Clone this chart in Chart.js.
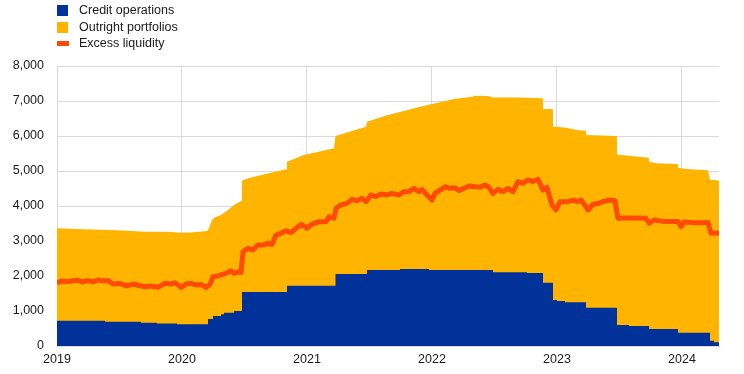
<!DOCTYPE html>
<html>
<head>
<meta charset="utf-8">
<script src="https://cdn.jsdelivr.net/npm/chart.js@4.4.1/dist/chart.umd.min.js"></script>
<style>
  html, body { margin: 0; padding: 0; background: #fff; }
  #wrap { position: relative; width: 744px; height: 374px; }
  #legend { position: absolute; left: 57px; top: 2px; font-family: "Liberation Sans", Arial, sans-serif; font-size: 12.5px; color: #1a1a1a; }
  .item { position: relative; height: 16.5px; line-height: 16.5px; padding-left: 22px; white-space: nowrap; }
  .sw { position: absolute; left: 0; }
</style>
</head>
<body>
<div id="wrap">
  <canvas id="c" width="744" height="374"></canvas>
  <div id="legend"></div>
</div>
<script>
// Series labels and colours
const seriesNames = ["Credit operations", "Outright portfolios", "Excess liquidity"];
const seriesColors = ["#003299", "#FFB400", "#FF4B00"];

// Tick labels
const yTicks = [0, 1000, 2000, 3000, 4000, 5000, 6000, 7000, 8000];
const xYears = [2019, 2020, 2021, 2022, 2023, 2024];

// Credit operations (EUR bn), step changes: date (decimal year) -> value
const creditDates = [2019.000, 2019.384, 2019.672, 2019.800, 2019.960, 2020.208, 2020.248, 2020.312, 2020.336, 2020.416, 2020.480, 2020.840, 2021.228, 2021.480, 2021.744, 2021.976, 2022.488, 2022.760, 2022.888, 2022.968, 2023.000, 2023.064, 2023.232, 2023.480, 2023.576, 2023.736, 2023.968, 2024.224, 2024.256, 2024.296];
const creditValues = [720, 695, 665, 645, 620, 770, 860, 905, 950, 1000, 1545, 1725, 2057, 2171, 2200, 2171, 2105, 2086, 1810, 1314, 1286, 1248, 1095, 600, 571, 486, 381, 152, 105, 105];

// Outright portfolios (EUR bn)
const outrightDates = [2019.000, 2019.160, 2019.480, 2019.704, 2019.888, 2020.000, 2020.064, 2020.184, 2020.207, 2020.224, 2020.240, 2020.264, 2020.312, 2020.368, 2020.416, 2020.479, 2020.480, 2020.544, 2020.576, 2020.712, 2020.832, 2020.840, 2020.976, 2021.216, 2021.228, 2021.472, 2021.480, 2021.640, 2021.776, 2021.904, 2022.000, 2022.176, 2022.320, 2022.344, 2022.448, 2022.487, 2022.704, 2022.887, 2022.888, 2022.967, 2022.968, 2023.000, 2023.072, 2023.160, 2023.231, 2023.232, 2023.479, 2023.480, 2023.608, 2023.735, 2023.736, 2023.792, 2023.967, 2023.968, 2024.032, 2024.208, 2024.224, 2024.255, 2024.256, 2024.296];
const outrightValues = [2645, 2625, 2610, 2602, 2622, 2618, 2625, 2660, 2670, 2680, 2830, 2816, 2838, 2936, 3029, 3150, 3185, 3265, 3293, 3407, 3503, 3542, 3732, 3923, 3943, 4210, 4239, 4419, 4514, 4638, 4743, 4886, 4953, 4979, 4969, 4929, 4994, 4990, 4960, 4960, 4953, 4976, 4990, 4923, 4902, 4935, 4905, 4870, 4849, 4809, 4781, 4733, 4714, 4714, 4679, 4639, 4591, 4591, 4638, 4615];

// Excess liquidity (EUR bn)
const excessDates = [2019.000, 2019.040, 2019.080, 2019.120, 2019.160, 2019.200, 2019.248, 2019.288, 2019.328, 2019.368, 2019.408, 2019.448, 2019.504, 2019.560, 2019.608, 2019.664, 2019.704, 2019.752, 2019.808, 2019.864, 2019.912, 2019.944, 2019.992, 2020.032, 2020.072, 2020.112, 2020.152, 2020.192, 2020.224, 2020.248, 2020.288, 2020.312, 2020.352, 2020.392, 2020.416, 2020.456, 2020.472, 2020.488, 2020.528, 2020.568, 2020.608, 2020.648, 2020.688, 2020.720, 2020.752, 2020.792, 2020.832, 2020.872, 2020.912, 2020.952, 2020.976, 2021.000, 2021.040, 2021.096, 2021.152, 2021.176, 2021.216, 2021.232, 2021.272, 2021.320, 2021.360, 2021.400, 2021.440, 2021.472, 2021.512, 2021.552, 2021.592, 2021.640, 2021.680, 2021.736, 2021.776, 2021.816, 2021.856, 2021.896, 2021.920, 2021.960, 2022.000, 2022.024, 2022.064, 2022.104, 2022.144, 2022.184, 2022.216, 2022.256, 2022.296, 2022.344, 2022.384, 2022.424, 2022.448, 2022.488, 2022.528, 2022.568, 2022.608, 2022.648, 2022.688, 2022.728, 2022.768, 2022.808, 2022.848, 2022.888, 2022.920, 2022.960, 2022.992, 2023.024, 2023.088, 2023.128, 2023.168, 2023.192, 2023.232, 2023.248, 2023.288, 2023.328, 2023.368, 2023.424, 2023.464, 2023.488, 2023.528, 2023.608, 2023.712, 2023.736, 2023.776, 2023.848, 2023.928, 2023.968, 2023.992, 2024.016, 2024.088, 2024.168, 2024.208, 2024.232, 2024.296];
const excessValues = [1800, 1860, 1845, 1860, 1885, 1830, 1870, 1830, 1885, 1860, 1870, 1770, 1785, 1715, 1770, 1720, 1695, 1715, 1675, 1790, 1770, 1810, 1675, 1770, 1790, 1745, 1760, 1675, 1760, 1980, 2000, 2030, 2075, 2150, 2075, 2125, 2100, 2695, 2790, 2745, 2885, 2885, 2935, 2900, 3170, 3220, 3295, 3240, 3360, 3475, 3430, 3360, 3485, 3550, 3550, 3695, 3650, 3935, 4030, 4075, 4190, 4150, 4220, 4125, 4315, 4270, 4345, 4315, 4360, 4315, 4410, 4410, 4505, 4410, 4475, 4315, 4170, 4360, 4455, 4550, 4505, 4520, 4440, 4505, 4570, 4550, 4540, 4600, 4560, 4360, 4475, 4410, 4505, 4410, 4695, 4650, 4745, 4700, 4760, 4455, 4530, 4030, 3885, 4125, 4125, 4170, 4125, 4170, 3980, 3885, 4050, 4070, 4125, 4170, 4150, 3650, 3660, 3660, 3650, 3505, 3600, 3560, 3560, 3560, 3410, 3540, 3525, 3525, 3530, 3220, 3230];

function creditAt(d) {
  let v = creditValues[0];
  for (let i = 0; i < creditDates.length; i++) { if (creditDates[i] <= d + 1e-9) v = creditValues[i]; }
  return v;
}

const creditPts = creditDates.map((d, i) => ({ x: d, y: creditValues[i] }));
const totalPts = outrightDates.map((d, i) => ({ x: d, y: outrightValues[i] + creditAt(d) }));
const excessPts = excessDates.map((d, i) => ({ x: d, y: excessValues[i] }));

// HTML legend
const lg = document.getElementById('legend');
seriesNames.forEach((n, i) => {
  const it = document.createElement('div');
  it.className = 'item';
  const sw = document.createElement('span');
  sw.className = 'sw';
  if (i < 2) { sw.style.cssText = 'left:0;top:3px;width:11px;height:11px;background:' + seriesColors[i]; }
  else { sw.style.cssText = 'left:0;top:6px;width:12px;height:5px;background:' + seriesColors[i]; }
  it.appendChild(sw);
  it.appendChild(document.createTextNode(n));
  lg.appendChild(it);
});

const FONT = { family: '"Liberation Sans", Arial, sans-serif', size: 12.5 };
const GRID = '#d9d9d9';

new Chart(document.getElementById('c'), {
  type: 'line',
  data: {
    datasets: [
      { label: seriesNames[2], data: excessPts, borderColor: seriesColors[2], borderWidth: 5, pointRadius: 0, fill: false, order: 0, borderJoinStyle: 'round' },
      { label: seriesNames[0], data: creditPts, borderWidth: 0, borderColor: seriesColors[0], backgroundColor: seriesColors[0], pointRadius: 0, fill: 'origin', stepped: 'before', order: 1 },
      { label: seriesNames[1], data: totalPts, borderWidth: 0, borderColor: seriesColors[1], backgroundColor: seriesColors[1], pointRadius: 0, fill: 'origin', order: 2 }
    ]
  },
  options: {
    responsive: false,
    animation: false,
    events: [],
    layout: { padding: { top: 66, right: 25, left: 0, bottom: 0 } },
    plugins: { legend: { display: false }, tooltip: { enabled: false } },
    scales: {
      x: {
        type: 'linear',
        min: 2019, max: 2024.296,
        grid: { color: GRID, drawTicks: false },
        border: { color: GRID },
        afterFit: (s) => { s.height = 28; },
        afterBuildTicks: (s) => { s.ticks = xYears.map(v => ({ value: v })); },
        ticks: { font: FONT, color: '#1a1a1a', padding: 6, maxRotation: 0, autoSkip: false, callback: (v) => String(v) }
      },
      y: {
        min: 0, max: 8000,
        grid: { color: GRID, drawTicks: false },
        border: { color: GRID },
        afterFit: (s) => { s.width = 57; },
        afterBuildTicks: (s) => { s.ticks = yTicks.map(v => ({ value: v })); },
        ticks: { font: FONT, color: '#1a1a1a', padding: 13, callback: (v) => v.toLocaleString('en-US') }
      }
    }
  }
});
</script>
</body>
</html>
